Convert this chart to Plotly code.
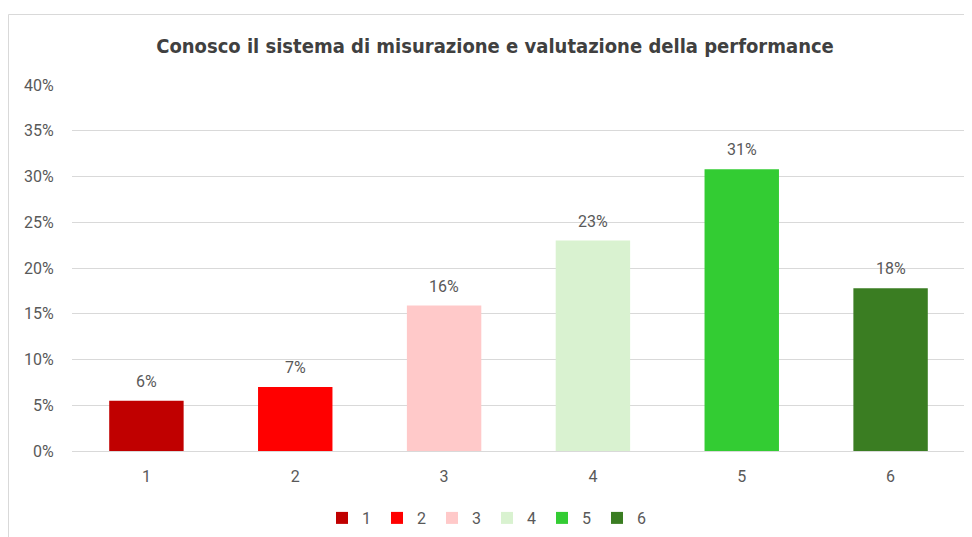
import plotly.graph_objects as go

categories = ["1", "2", "3", "4", "5", "6"]
values = [0.055, 0.070, 0.159, 0.230, 0.308, 0.178]
labels = ["6%", "7%", "16%", "23%", "31%", "18%"]
colors = ["#C00000", "#FF0000", "#FFC9C9", "#D9F2D0", "#33CC33", "#3A7D22"]
y_ticks = [0, 0.05, 0.10, 0.15, 0.20, 0.25, 0.30, 0.35, 0.40]
y_tick_text = ["0%", "5%", "10%", "15%", "20%", "25%", "30%", "35%", "40%"]
title = "Conosco il sistema di misurazione e valutazione della performance"

grey = "#595959"
font_main = "Roboto, Liberation Sans, sans-serif"

# the page body adds an 8px offset; positions below are in figure pixels
OFF = 8
W, H = 972, 537
L, R, T, B = 72 - OFF, 965 - OFF, 85 - OFF, 451 - OFF
pw, ph = R - L, B - T


def px(x):
    return (x - OFF - L) / pw


def py(y):
    return (B - (y - OFF)) / ph


fig = go.Figure()
for c, v, col in zip(categories, values, colors):
    fig.add_trace(go.Bar(x=[c], y=[v], name=c, marker=dict(color=col, line=dict(width=0)),
                         width=0.5, hoverinfo="x+y"))

for i, (v, t) in enumerate(zip(values, labels)):
    fig.add_annotation(x=i, y=v, text=t, showarrow=False, yanchor="bottom", yshift=8,
                       font=dict(size=16, color=grey, family=font_main))

fig.add_shape(type="rect", xref="paper", yref="paper",
              x0=px(8.5), x1=px(990), y0=py(560), y1=py(14.5),
              line=dict(color="#D9D9D9", width=1), fillcolor="rgba(0,0,0,0)", layer="below")

fig.update_layout(
    width=W, height=H,
    margin=dict(l=L, r=W - R, t=T, b=H - B, autoexpand=False),
    paper_bgcolor="white", plot_bgcolor="white",
    barmode="overlay",
    title=dict(text="<b>" + title + "</b>", x=(495 - OFF) / W, xref="container", xanchor="center",
               y=1 - (46 - OFF) / H, yref="container", yanchor="middle",
               font=dict(size=20, color="#404040",
                         family="DejaVu Sans Condensed, Liberation Sans Narrow, Roboto, sans-serif")),
    xaxis=dict(type="category", categoryorder="array", categoryarray=categories,
               range=[-0.5, len(categories) - 0.5],
               showgrid=False, showline=True, linecolor="#D9D9D9", linewidth=1,
               ticks="outside", ticklen=11, tickcolor="rgba(0,0,0,0)",
               tickfont=dict(size=16, color=grey, family=font_main), fixedrange=True),
    yaxis=dict(range=[0, 0.4], tickvals=y_ticks, ticktext=y_tick_text,
               showgrid=True, gridcolor="#D9D9D9", gridwidth=1, zeroline=False,
               showline=False, ticks="outside", ticklen=14, tickcolor="rgba(0,0,0,0)",
               tickfont=dict(size=16, color=grey, family=font_main), fixedrange=True),
    legend=dict(orientation="h", x=px(487), xanchor="center", y=py(518), yanchor="middle",
                font=dict(size=16, color=grey, family=font_main), itemwidth=30,
                entrywidth=10, entrywidthmode="pixels",
                tracegroupgap=0, bgcolor="rgba(0,0,0,0)"),
    showlegend=True,
)

fig.write_html("out.html")
